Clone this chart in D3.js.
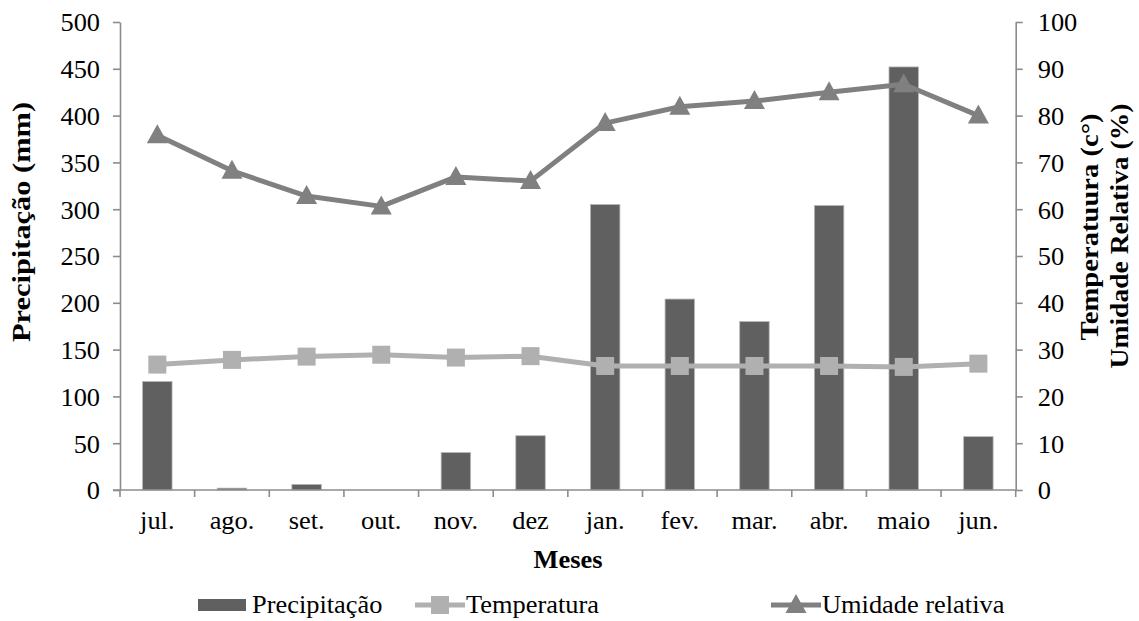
<!DOCTYPE html>
<html><head><meta charset="utf-8">
<script src="https://d3js.org/d3.v7.min.js"></script>
<style>body{margin:0;background:#fff}svg{display:block}text{font-family:"Liberation Serif","Times New Roman",serif;fill:#000}</style>
</head><body><svg id="c" width="1139" height="621"></svg>
<script>
const months = ["jul.","ago.","set.","out.","nov.","dez","jan.","fev.","mar.","abr.","maio","jun."];
const precipitacao = [116, 2, 6, 0, 40, 58, 305, 204, 180, 304, 452, 57];
const temperatura = [26.8, 27.8, 28.5, 28.9, 28.3, 28.6, 26.5, 26.5, 26.5, 26.5, 26.3, 27.0];
const umidade = [75.8, 68.2, 62.8, 60.6, 66.9, 66.0, 78.4, 81.9, 83.1, 85.0, 86.7, 80.0];
const leftTicks = [0,50,100,150,200,250,300,350,400,450,500];
const rightTicks = [0,10,20,30,40,50,60,70,80,90,100];

const SX = 1.015, FS = 26;
const svg = d3.select("#c");
const L = 120, R = 1015.7, T = 22, B = 490;
const x = d3.scaleBand().domain(months).range([L, R]).padding(0);
const yL = d3.scaleLinear().domain([0,500]).range([B, T]);
const yR = d3.scaleLinear().domain([0,100]).range([B, T]);
const axisCol = "#8c8c8c";

// bars
const bw = x.bandwidth()*0.395;
svg.append("g").selectAll("rect").data(precipitacao).join("rect")
  .attr("x", (d,i)=>x(months[i]) + x.bandwidth()/2 - bw/2)
  .attr("y", d=>yL(d)).attr("width", bw).attr("height", d=>B - yL(d))
  .attr("fill", "#606060").attr("stroke", d=>d>0?"#b8b8b8":"none").attr("stroke-width", 0.8);

// left axis
const gl = svg.append("g").attr("transform", `translate(${L},0)`)
  .call(d3.axisLeft(yL).tickValues(leftTicks).tickSize(7).tickSizeOuter(0));
gl.select(".domain").attr("stroke", axisCol).attr("stroke-width", 1.6);
gl.selectAll(".tick line").attr("stroke", axisCol).attr("stroke-width", 1.6);
gl.selectAll(".tick text").attr("x", -19.7).attr("dy","0.34em").attr("font-size", FS)
  .attr("font-family","Liberation Serif").attr("fill","#000").attr("transform", `scale(${SX},1)`);

// right axis
const gr = svg.append("g").attr("transform", `translate(${R},0)`)
  .call(d3.axisRight(yR).tickValues(rightTicks).tickSize(7).tickSizeOuter(0));
gr.select(".domain").attr("stroke", axisCol).attr("stroke-width", 1.6);
gr.selectAll(".tick line").attr("stroke", axisCol).attr("stroke-width", 1.6);
gr.selectAll(".tick text").attr("x", 21.7).attr("dy","0.34em").attr("font-size", FS)
  .attr("font-family","Liberation Serif").attr("fill","#000").attr("transform", `scale(${SX},1)`);

// bottom axis
svg.append("line").attr("x1", L-7).attr("x2", R).attr("y1", B).attr("y2", B)
  .attr("stroke", axisCol).attr("stroke-width", 1.6);
const bounds = months.map(m=>x(m)).concat([R]);
svg.append("g").selectAll("line").data(bounds).join("line")
  .attr("x1", d=>d).attr("x2", d=>d).attr("y1", B).attr("y2", B+7)
  .attr("stroke", axisCol).attr("stroke-width", 1.6);
svg.append("g").selectAll("text").data(months).join("text")
  .attr("transform", d=>`translate(${x(d)+x.bandwidth()/2},529) scale(${SX},1)`)
  .attr("text-anchor","middle").attr("font-size", FS).text(d=>d);

// lines
const cx = i => x(months[i]) + x.bandwidth()/2;
const lineT = d3.line().x((d,i)=>cx(i)).y(d=>yR(d));
svg.append("path").datum(temperatura).attr("d", lineT).attr("fill","none")
  .attr("stroke","#b0b0b0").attr("stroke-width",5).attr("stroke-linejoin","round");
svg.append("g").selectAll("rect").data(temperatura).join("rect")
  .attr("x",(d,i)=>cx(i)-9).attr("y",d=>yR(d)-9).attr("width",18).attr("height",18)
  .attr("fill","#b0b0b0");
svg.append("path").datum(umidade).attr("d", lineT).attr("fill","none")
  .attr("stroke","#808080").attr("stroke-width",5).attr("stroke-linejoin","round");
const tri = (cxp, cyp) => `M${cxp},${cyp-11}L${cxp+10.5},${cyp+8}L${cxp-10.5},${cyp+8}Z`;
svg.append("g").selectAll("path").data(umidade).join("path")
  .attr("d",(d,i)=>tri(cx(i), yR(d))).attr("fill","#808080");

// axis titles
svg.append("text").attr("transform",`translate(568,568) scale(${SX},1)`)
  .attr("text-anchor","middle").attr("font-size",FS).attr("font-weight","bold").text("Meses");
svg.append("text").attr("transform","translate(30,222) rotate(-90) scale(1.17,1)")
  .attr("text-anchor","middle").attr("font-size",26).attr("font-weight","bold").text("Precipitação (mm)");
svg.append("text").attr("transform","translate(1098,227) rotate(-90) scale(1.1,1)")
  .attr("text-anchor","middle").attr("font-size",26).attr("font-weight","bold").text("Temperatuura (c°)");
svg.append("text").attr("transform","translate(1128,236) rotate(-90) scale(1.06,1)")
  .attr("text-anchor","middle").attr("font-size",26).attr("font-weight","bold").text("Umidade Relativa (%)");

// legend
const ly = 605;
const lg = svg.append("g");
lg.append("rect").attr("x",198).attr("y",ly-6).attr("width",48).attr("height",12).attr("fill","#606060");
lg.append("text").attr("transform",`translate(252,${ly+8}) scale(${SX},1)`).attr("font-size",FS).text("Precipitação");
lg.append("line").attr("x1",415).attr("x2",465).attr("y1",ly).attr("y2",ly).attr("stroke","#b0b0b0").attr("stroke-width",5);
lg.append("rect").attr("x",431).attr("y",ly-9).attr("width",18).attr("height",18).attr("fill","#b0b0b0");
lg.append("text").attr("transform",`translate(466,${ly+8}) scale(${SX},1)`).attr("font-size",FS).text("Temperatura");
lg.append("line").attr("x1",771).attr("x2",821).attr("y1",ly).attr("y2",ly).attr("stroke","#808080").attr("stroke-width",5);
lg.append("path").attr("d",tri(796,ly)).attr("fill","#808080");
lg.append("text").attr("transform",`translate(822,${ly+8}) scale(${SX},1)`).attr("font-size",FS).text("Umidade relativa");
</script></body></html>
